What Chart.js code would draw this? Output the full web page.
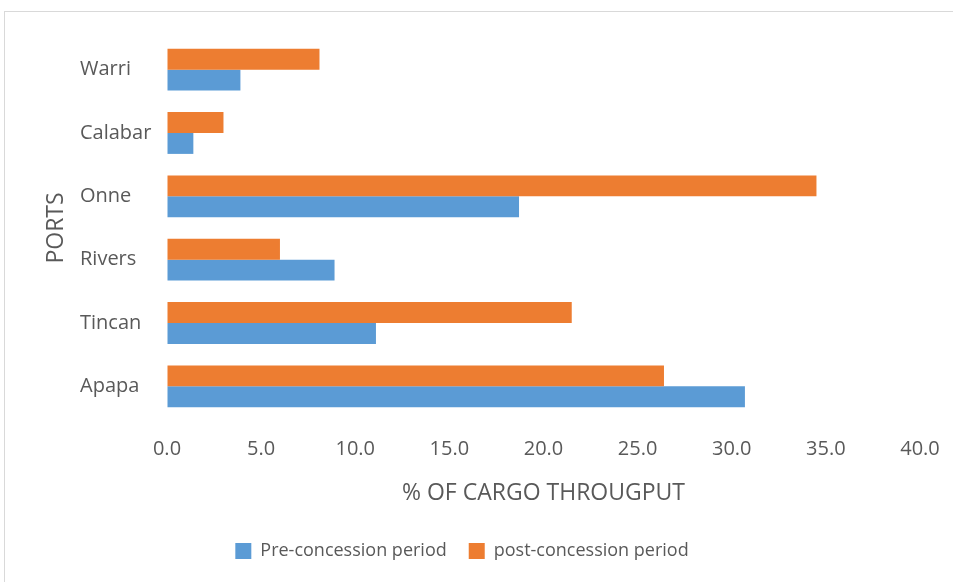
<html>
  <head>
    <script src="https://cdn.jsdelivr.net/npm/chart.js@4.4.1/dist/chart.umd.min.js"></script>
    <style>
      body { margin: 0; background: #fff; overflow: hidden; }
      #frame {
        position: absolute; left: 4px; top: 11px;
        width: 1000px; height: 1000px;
        border: 1px solid #d9d9d9;
      }
      #portChart { position: absolute; left: 0; top: 0; }
    </style>
  </head>
  <body>
    <div id="frame"></div>
    <canvas id="portChart" width="953" height="582"></canvas>
    <script>
      // ports, top to bottom
      var ports = ["Warri", "Calabar", "Onne", "Rivers", "Tincan", "Apapa"];
      var preConcession = [3.9, 1.4, 18.7, 8.9, 11.1, 30.7];
      var postConcession = [8.1, 3.0, 34.5, 6.0, 21.5, 26.4];
      var xTicks = [0, 5, 10, 15, 20, 25, 30, 35, 40];

      var textColor = "#595959";
      var fontFamily = "'Open Sans', sans-serif";

      // legend is centred under the whole frame, not the plot
      var legendShift = {
        id: "legendShift",
        afterLayout: (chart) => {
          chart.legend.left = 4;
          chart.legend.right = 920;
        },
      };

      var ctx = document.getElementById("portChart").getContext("2d");
      var portChart = new Chart(ctx, {
        type: "bar",
        data: {
          labels: ports,
          datasets: [
            {
              label: "post-concession period",
              data: postConcession,
              backgroundColor: "#ED7D31",
            },
            {
              label: "Pre-concession period",
              data: preConcession,
              backgroundColor: "#5B9BD5",
            },
          ],
        },
        plugins: [legendShift],
        options: {
          indexAxis: "y",
          responsive: false,
          animation: false,
          layout: { padding: { top: 38, left: 80, right: 33, bottom: 12 } },
          datasets: {
            bar: { categoryPercentage: 0.66, barPercentage: 1.0 },
          },
          scales: {
            x: {
              min: 0,
              max: 40,
              afterBuildTicks: (scale) => {
                scale.ticks = xTicks.map((v) => ({ value: v }));
              },
              afterFit: (scale) => { scale.height = 102; },
              // invisible tick marks just push the labels down
              grid: {
                display: true,
                drawOnChartArea: false,
                drawTicks: true,
                tickLength: 12,
                color: "rgba(0,0,0,0)",
              },
              border: { display: false },
              ticks: {
                padding: 7,
                color: textColor,
                font: { family: fontFamily, size: 20 },
                callback: (v) => Number(v).toFixed(1),
              },
              title: {
                display: true,
                text: "% OF CARGO THROUGPUT",
                color: textColor,
                font: { family: fontFamily, size: 23 },
                padding: { top: 0, bottom: 13 },
              },
            },
            y: {
              afterFit: (scale) => { scale.width = 87; },
              grid: { display: false, drawTicks: false },
              border: { display: false },
              ticks: {
                crossAlign: "far",
                padding: 14,
                color: textColor,
                font: { family: fontFamily, size: 20 },
              },
              title: {
                display: true,
                text: "PORTS",
                color: textColor,
                font: { family: fontFamily, size: 23 },
                padding: { top: -37, bottom: 0 },
              },
            },
          },
          plugins: {
            legend: {
              position: "bottom",
              reverse: true,
              labels: {
                color: textColor,
                font: { family: fontFamily, size: 18 },
                boxWidth: 16,
                boxHeight: 16,
                padding: 22,
              },
            },
            tooltip: { enabled: false },
          },
        },
      });
    </script>
  </body>
</html>
